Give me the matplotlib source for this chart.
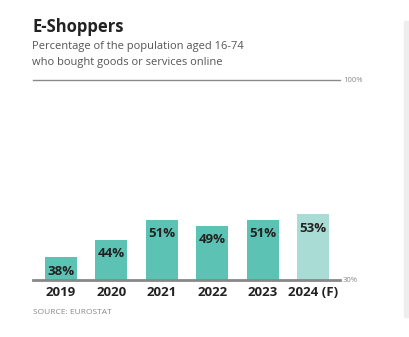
import matplotlib.pyplot as plt
from matplotlib.patches import Rectangle

years = ['2019', '2020', '2021', '2022', '2023', '2024 (F)']
shares = [38, 44, 51, 49, 51, 53]
forecast = [False, False, False, False, False, True]

plt.rcParams['font.family'] = ['Open Sans', 'DejaVu Sans']

fig = plt.figure(figsize=(4.09, 3.37), dpi=100)
fig.patch.set_facecolor('white')

ax = fig.add_axes([33 / 409, 57 / 337, 307 / 409, 200 / 337])
colors = ['#a9dcd4' if f else '#5cc2b3' for f in forecast]
x = list(range(len(years)))
ax.bar(x, [s - 30 for s in shares], bottom=30, width=0.635, color=colors)
ax.set_xlim(-0.556, 5.536)
ax.set_ylim(30, 100)

for xi, s in zip(x, shares):
    ax.annotate(f'{s}%', (xi, s), xytext=(0, -10), textcoords='offset points',
                ha='center', va='center', fontsize=9.5, fontweight='bold', color='#222222')

ax.axhline(30, color='#888888', lw=2, clip_on=False)
ax.axhline(100, color='#8a8a8a', lw=1, clip_on=False)
ax.text(1.01, 30, '30%', transform=ax.get_yaxis_transform(), ha='left', va='center',
        fontsize=5.5, color='#888888')
ax.text(1.01, 100, '100%', transform=ax.get_yaxis_transform(), ha='left', va='center',
        fontsize=5.5, color='#888888')

ax.set_xticks(x)
ax.set_xticklabels(years, fontsize=9.5, fontweight='bold', color='#222222')
ax.tick_params(axis='x', length=0, pad=4)
ax.set_yticks([])
for sp in ax.spines.values():
    sp.set_visible(False)

fig.text(32 / 409, 1 - 27 / 337, 'E-Shoppers', fontsize=12, fontweight='bold',
         color='#222222', va='center')
fig.text(32 / 409, 1 - 47 / 337, 'Percentage of the population aged 16-74', fontsize=8,
         color='#555555', va='center')
fig.text(32 / 409, 1 - 62 / 337, 'who bought goods or services online', fontsize=8,
         color='#555555', va='center')
fig.text(33 / 409, 1 - 313 / 337, 'SOURCE: EUROSTAT', fontsize=6, color='#888888', va='center')

# strip of the neighbouring panel at the right edge
fig.patches.append(Rectangle((404 / 409, 20 / 337), 5 / 409, 296 / 337,
                             transform=fig.transFigure, color='#eeeeee', zorder=0))

fig.savefig('out.png', dpi=100)
